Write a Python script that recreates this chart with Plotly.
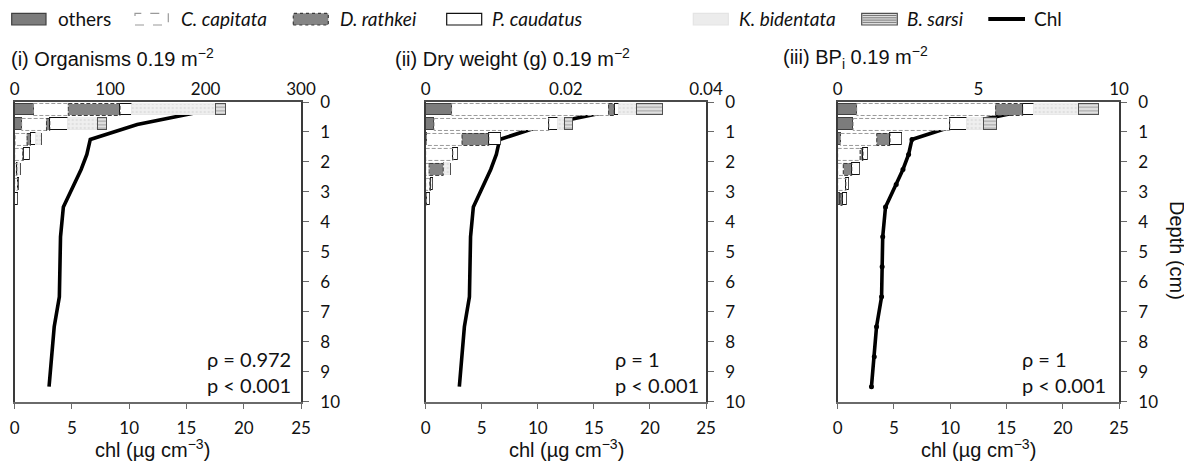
import numpy as np
import plotly.graph_objects as go

# the figure sits at the page's default 8px body margin (top/left)
OFF = 8
FW, FH = 1192 - OFF, 462 - OFF

# ---------------- data ----------------
depth_bars = [0.25, 0.75, 1.25, 1.75, 2.25, 2.75, 3.25]
depth_chl = [0.25, 0.75, 1.25, 1.75, 2.25, 2.75, 3.5, 4.5, 5.5, 6.5, 7.5, 8.5, 9.5]
chl = [17.2, 10.7, 6.6, 6.3, 5.8, 5.2, 4.25, 4.0, 3.95, 3.9, 3.45, 3.25, 3.0]

species = ["others", "C. capitata", "D. rathkei", "P. caudatus", "K. bidentata", "B. sarsi"]

# (i) Organisms 0.19 m-2
org_others = [19.5, 7.3, 0.5, 0, 0, 0, 0.5]
org_capitata = [36.7, 26.0, 12.5, 8.5, 2.5, 3.0, 0]
org_rathkei = [54.2, 3.5, 3.5, 0.5, 0, 0, 0]
org_caudatus = [12.2, 19.0, 5.2, 7.0, 0.5, 1.0, 3.0]
org_bidentata = [88.4, 31.5, 7.0, 0, 3.5, 0, 0]
org_sarsi = [10.5, 9.5, 0, 0, 0, 0, 0]

# (ii) Dry weight (g) 0.19 m-2
dw_others = [0.0037, 0.0012, 0.0001, 0, 0, 0, 0]
dw_capitata = [0.0224, 0.0164, 0.0051, 0.0039, 0.0005, 0.0006, 0.0001]
dw_rathkei = [0.0008, 0, 0.0038, 0, 0.0020, 0.0001, 0]
dw_caudatus = [0.0006, 0.0012, 0.0017, 0.0007, 0, 0.0003, 0.0004]
dw_bidentata = [0.0026, 0.0010, 0, 0, 0.0011, 0, 0]
dw_sarsi = [0.0037, 0.0012, 0, 0, 0, 0, 0]

# (iii) BPi 0.19 m-2
bp_others = [0.675, 0.55, 0.1, 0, 0, 0, 0.08]
bp_capitata = [4.94, 3.44, 1.29, 0.8, 0.2, 0.3, 0]
bp_rathkei = [0.96, 0, 0.47, 0.1, 0.3, 0, 0.08]
bp_caudatus = [0.38, 0.59, 0.41, 0.15, 0.29, 0.1, 0.15]
bp_bidentata = [1.6, 0.62, 0, 0, 0, 0, 0]
bp_sarsi = [0.71, 0.45, 0, 0, 0, 0, 0]

panel_titles = ["(i) Organisms 0.19 m<sup>−2</sup>",
                "(ii) Dry weight (g) 0.19 m<sup>−2</sup>",
                "(iii) BP<sub>i</sub> 0.19 m<sup>−2</sup>"]
stats = ["ρ = 0.972<br>p &lt; 0.001", "ρ = 1<br>p &lt; 0.001", "ρ = 1<br>p &lt; 0.001"]
top_ranges = [[0, 300], [0, 0.04], [0, 10]]
top_ticks = [[0, 100, 200, 300], [0, 0.02, 0.04], [0, 5, 10]]
top_ticktext = [["0", "100", "200", "300"], ["0", "0.02", "0.04"], ["0", "5", "10"]]
chl_ticks = [0, 5, 10, 15, 20, 25]
depth_ticks = list(range(0, 11))

panels = [
    [org_others, org_capitata, org_rathkei, org_caudatus, org_bidentata, org_sarsi],
    [dw_others, dw_capitata, dw_rathkei, dw_caudatus, dw_bidentata, dw_sarsi],
    [bp_others, bp_capitata, bp_rathkei, bp_caudatus, bp_bidentata, bp_sarsi],
]

# ---------------- styles ----------------
def px(x):
    return (x - OFF) / FW

def py(y):
    return 1 - (y - OFF) / FH

CAL = "Lato"
ARI = "Liberation Sans"
BAR_W = 0.4

domains_x = [[px(14.7), px(301)], [px(425.7), px(706)], [px(837.7), px(1119)]]
domain_y = [py(401.7), py(102.0)]

styles = [
    dict(marker=dict(color="#7c7c7c", line=dict(color="#404040", width=1))),
    dict(marker=dict(color="white", line=dict(width=0))),
    dict(marker=dict(color="#858585", line=dict(width=0))),
    dict(marker=dict(color="white", line=dict(color="#111111", width=1.2))),
    dict(marker=dict(color="#ececec",
                     pattern=dict(shape=".", fgcolor="#cfcfcf", bgcolor="#efefef", size=4, solidity=0.3),
                     line=dict(color="#e2e2e2", width=0.6))),
    dict(marker=dict(color="#d8d8d8",
                     pattern=dict(shape="-", fgcolor="#707070", bgcolor="#e0e0e0", size=3.5, solidity=0.35),
                     line=dict(color="#505050", width=1))),
]
dashed = {1: "#9a9a9a", 2: "#3a3a3a"}

fig = go.Figure()

for k, vals in enumerate(panels):
    xb = "x%d" % (2 * k + 1)   # chl axis (bottom)
    xt = "x%d" % (2 * k + 2)   # bar axis (top)
    ya = "y%d" % (k + 1)
    arr = np.array(vals, dtype=float)
    cum = np.vstack([np.zeros(arr.shape[1]), np.cumsum(arr, axis=0)])
    for s, name in enumerate(species):
        fig.add_trace(go.Bar(
            y=depth_bars, x=vals[s], orientation="h", width=BAR_W, name=name,
            xaxis=xt, yaxis=ya, showlegend=False, **styles[s]))
    # dashed outlines for C. capitata and D. rathkei
    for s, col in dashed.items():
        xs, ys = [], []
        for i, d in enumerate(depth_bars):
            v = vals[s][i]
            if v <= 0:
                continue
            b0, b1 = cum[s][i], cum[s + 1][i]
            xs += [b0, b1, b1, b0, b0, None]
            ys += [d - BAR_W / 2, d - BAR_W / 2, d + BAR_W / 2, d + BAR_W / 2, d - BAR_W / 2, None]
        fig.add_trace(go.Scatter(x=xs, y=ys, mode="lines", xaxis=xt, yaxis=ya,
                                 line=dict(color=col, width=1, dash="4px,2px"),
                                 showlegend=False, hoverinfo="skip"))
    # chl line
    fig.add_trace(go.Scatter(
        x=chl, y=depth_chl, mode="lines+markers" if k == 2 else "lines",
        xaxis=xb, yaxis=ya, name="Chl", showlegend=False,
        line=dict(color="black", width=3.6),
        marker=dict(color="black", size=5)))

    tickfont = dict(family=CAL, size=17, color="#111")
    fig.layout["xaxis%d" % (2 * k + 1)] = dict(
        domain=domains_x[k], range=[0, 25], anchor=ya, tickvals=chl_ticks,
        showline=True, linecolor="#6a6a6a", linewidth=1.5, ticks="outside",
        ticklen=6, tickcolor="#6a6a6a", tickfont=tickfont, showgrid=False,
        zeroline=False, ticklabelstandoff=4, automargin=False)
    fig.layout["xaxis%d" % (2 * k + 2)] = dict(
        domain=domains_x[k], range=top_ranges[k], anchor=ya,
        overlaying="x%d" % (2 * k + 1), side="top",
        tickvals=top_ticks[k], ticktext=top_ticktext[k],
        showline=True, linecolor="#4a4a4a", linewidth=1.5, ticks="",
        tickfont=tickfont, showgrid=False, zeroline=False, ticklabelstandoff=-2,
        automargin=False)
    fig.layout["yaxis%d" % (k + 1)] = dict(
        domain=domain_y, range=[10, 0], anchor=xb, side="right",
        tickvals=depth_ticks, showline=True, mirror=True, linecolor="#3a3a3a",
        linewidth=1.8, ticks="outside", ticklen=6, tickcolor="#6a6a6a",
        tickfont=tickfont, showgrid=False, zeroline=False, ticklabelstandoff=8,
        automargin=False)

annotations = []
title_x = [8.5, 393, 781]
chl_title_x = [152, 566, 978]
stat_x = [205, 613.3, 1020]
for k in range(3):
    annotations.append(dict(text=panel_titles[k], x=px(title_x[k]), y=py(57), xref="paper", yref="paper",
                            xanchor="left", yanchor="middle", showarrow=False,
                            font=dict(family=ARI, size=20, color="#111")))
    annotations.append(dict(text="chl (µg cm<sup>−3</sup>)", x=px(chl_title_x[k]), y=py(448),
                            xref="paper", yref="paper", xanchor="center", yanchor="middle",
                            showarrow=False, font=dict(family=ARI, size=20, color="#111")))
    annotations.append(dict(text=stats[k], x=px(stat_x[k]), y=py(372), xref="paper", yref="paper",
                            xanchor="left", yanchor="middle", align="left", showarrow=False,
                            font=dict(family=CAL, size=20, color="#111")))
annotations.append(dict(text="Depth (cm)", x=px(1177), y=py(250), xref="paper", yref="paper",
                        textangle=90, xanchor="center", yanchor="middle", showarrow=False,
                        font=dict(family=ARI, size=20, color="#111")))

# ---------------- legend (drawn manually) ----------------
shapes = []
leg_y0, leg_y1 = 13.3, 25
leg_items = [
    (11.7, 46, 56, "others", "#7c7c7c", "#404040", "solid"),
    (135, 168.3, 179, "<i>C. capitata</i>", "white", "#9a9a9a", "dash"),
    (293.3, 328.3, 337.5, "<i>D. rathkei</i>", "#858585", "#3a3a3a", "dot"),
    (446.7, 481.7, 490, "<i>P. caudatus</i>", "white", "#111111", "solid"),
    (693.3, 728.3, 736.7, "<i>K. bidentata</i>", "#ececec", "#e4e4e4", "solid"),
    (861.7, 897.3, 905, "<i>B. sarsi</i>", "#dddddd", "#505050", "solid"),
]
for x0, x1, tx, label, fill, lc, dash in leg_items:
    shapes.append(dict(type="rect", xref="paper", yref="paper", x0=px(x0), x1=px(x1),
                       y0=py(leg_y1), y1=py(leg_y0), fillcolor=fill,
                       line=dict(color=lc, width=1.2, dash=dash)))
    annotations.append(dict(text=label, x=px(tx), y=py(19), xref="paper", yref="paper",
                            xanchor="left", yanchor="middle", showarrow=False,
                            font=dict(family=CAL, size=19, color="#111")))
for yy in [15.5, 17.8, 20.1, 22.4]:
    shapes.append(dict(type="line", xref="paper", yref="paper", x0=px(862.5), x1=px(896.5),
                       y0=py(yy), y1=py(yy), line=dict(color="#7a7a7a", width=1)))
shapes.append(dict(type="line", xref="paper", yref="paper", x0=px(988.3), x1=px(1025),
                   y0=py(19), y1=py(19), line=dict(color="black", width=4)))
annotations.append(dict(text="Chl", x=px(1032), y=py(19), xref="paper", yref="paper",
                        xanchor="left", yanchor="middle", showarrow=False,
                        font=dict(family=CAL, size=19, color="#111")))

fig.update_layout(
    width=FW, height=FH, autosize=False, margin=dict(l=0, r=0, t=0, b=0, pad=0),
    paper_bgcolor="white", plot_bgcolor="white",
    barmode="stack", bargap=0, showlegend=False,
    annotations=annotations, shapes=shapes,
)

fig.write_html("out.html")
